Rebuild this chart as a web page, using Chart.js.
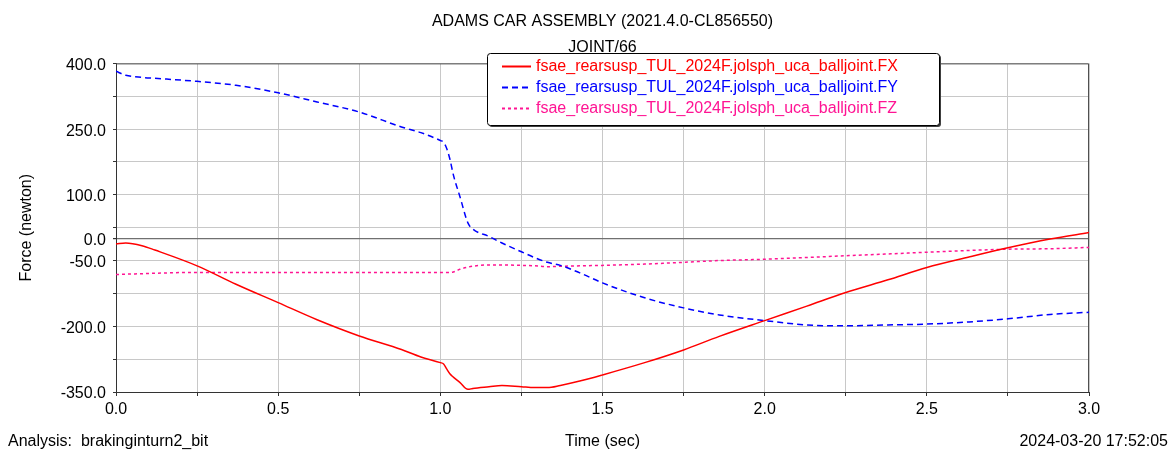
<!DOCTYPE html>
<html><head><meta charset="utf-8">
<script src="https://cdn.jsdelivr.net/npm/chart.js@4.4.0/dist/chart.umd.min.js"></script>
<style>html,body{margin:0;padding:0;background:#fff;}canvas{display:block}</style>
</head><body>
<canvas id="c" width="1172" height="450"></canvas>
<script>
// ---- data ----
const times = [0, 0.03, 0.08, 0.12, 0.25, 0.37, 0.5, 0.62, 0.75, 0.88, 0.94, 1.0, 1.01, 1.02, 1.03, 1.04, 1.06, 1.085, 1.1, 1.15, 1.19, 1.25, 1.29, 1.33, 1.37, 1.43, 1.5, 1.63, 1.75, 1.86, 2.0, 2.13, 2.25, 2.38, 2.5, 2.63, 2.75, 2.88, 3.0];
const fx = [-12, -10, -16, -26, -62, -104, -146, -185, -222, -253, -270, -283, -286, -298, -309, -316, -328, -344, -342, -338, -335, -338, -340, -340, -335, -325, -311, -283, -254, -223, -187, -154, -123, -94, -66, -42, -21, -1, 14];
const fy = [382, 373, 368, 366, 359, 350, 333, 312, 289, 255, 242, 224, 220, 205, 180, 146, 97, 36, 22, 5, -10, -30, -43, -54, -61, -78, -101, -135, -158, -174, -187, -197, -199, -197, -195, -190, -183, -173, -168];
const fz = [-82, -81, -80, -79, -77, -77, -77, -77, -77, -77, -77, -77, -77, -77, -77, -76, -70, -65, -63, -60, -60, -61, -62, -64, -63, -62, -61, -58, -54, -50, -47, -43, -39, -35, -31, -27, -24, -23, -20];
const seriesLabels = ['fsae_rearsusp_TUL_2024F.jolsph_uca_balljoint.FX', 'fsae_rearsusp_TUL_2024F.jolsph_uca_balljoint.FY', 'fsae_rearsusp_TUL_2024F.jolsph_uca_balljoint.FZ'];
const yTickValues = [-350, -275, -200, -125, -50, 0, 25, 100, 175, 250, 325, 400];
const yTickLabelled = [-350, -200, -50, 0, 100, 250, 400];
const xTickValues = [0, 0.25, 0.5, 0.75, 1.0, 1.25, 1.5, 1.75, 2.0, 2.25, 2.5, 2.75, 3.0];
const xTickLabelled = [0, 0.5, 1.0, 1.5, 2.0, 2.5, 3.0];
const titleText = 'ADAMS CAR ASSEMBLY (2021.4.0-CL856550)';
const subtitleText = 'JOINT/66';
const yAxisTitle = 'Force (newton)';
const xAxisTitle = 'Time (sec)';
const footerLeft = 'Analysis:  brakinginturn2_bit';
const footerRight = '2024-03-20 17:52:05';

// ---- styles ----
const FONT = '"Liberation Sans", Arial, sans-serif';
const colors = ['#ff0000', '#0000ff', '#ff1493'];
const dashes = [[], [6, 4], [3, 3]];
const GRID = '#c8c8c8';
const AXIS = '#333333';

const toPts = (vals) => times.map((t, i) => ({x: t, y: vals[i]}));

const frameAndText = {
  id: 'frameAndText',
  beforeDatasetsDraw(chart) {
    const {ctx, chartArea: a} = chart;
    ctx.save();
    ctx.strokeStyle = '#505050';
    ctx.lineWidth = 1;
    ctx.beginPath();
    ctx.moveTo(a.left, a.top + 0.5);
    ctx.lineTo(a.right - 0.5, a.top + 0.5);
    ctx.lineTo(a.right - 0.5, a.bottom);
    ctx.stroke();
    ctx.restore();
  },
  afterDraw(chart) {
    const {ctx} = chart;
    ctx.save();
    ctx.font = '16px ' + FONT;
    ctx.fillStyle = '#000';
    ctx.textBaseline = 'middle';
    ctx.textAlign = 'left';
    ctx.fillText(footerLeft, 8, 442);
    ctx.textAlign = 'right';
    ctx.fillText(footerRight, 1168, 442);
    // legend box
    const bx = 487.5, by = 53.5, bw = 452, bh = 72;
    ctx.fillStyle = '#404040';
    ctx.beginPath();
    ctx.roundRect(bx + 1.5, by + 1.5, bw, bh, 3);
    ctx.fill();
    ctx.fillStyle = '#fff';
    ctx.strokeStyle = '#000';
    ctx.lineWidth = 1;
    ctx.beginPath();
    ctx.roundRect(bx, by, bw, bh, 3);
    ctx.fill();
    ctx.stroke();
    chart.data.datasets.forEach((ds, i) => {
      const cy = by + 13 + i * 21;
      ctx.strokeStyle = ds.borderColor;
      ctx.lineWidth = 2;
      ctx.setLineDash(ds.borderDash || []);
      ctx.beginPath();
      ctx.moveTo(502, cy);
      ctx.lineTo(531, cy);
      ctx.stroke();
      ctx.setLineDash([]);
      ctx.fillStyle = ds.borderColor;
      ctx.textAlign = 'left';
      ctx.textBaseline = 'middle';
      ctx.fillText(ds.label, 536, cy);
    });
    ctx.restore();
  }
};

new Chart(document.getElementById('c'), {
  type: 'line',
  data: {
    datasets: [fx, fy, fz].map((vals, i) => ({
      label: seriesLabels[i],
      data: toPts(vals),
      borderColor: colors[i],
      backgroundColor: colors[i],
      borderWidth: 1.5,
      borderDash: dashes[i],
      pointRadius: 0,
      fill: false,
      cubicInterpolationMode: 'monotone'
    }))
  },
  options: {
    responsive: false,
    animation: false,
    layout: {padding: {left: 0, right: 83, top: 0, bottom: 0}},
    plugins: {
      legend: {display: false},
      tooltip: {enabled: false},
      title: {display: true, text: titleText, fullSize: false, color: '#000',
        font: {family: FONT, size: 16, weight: 'normal', lineHeight: 1.2}, padding: {top: 12, bottom: 7}},
      subtitle: {display: true, text: subtitleText, fullSize: false, color: '#000',
        font: {family: FONT, size: 16, weight: 'normal', lineHeight: 1.2}, padding: {top: 0, bottom: 6}}
    },
    scales: {
      x: {
        type: 'linear', min: 0, max: 3,
        afterBuildTicks: (s) => { s.ticks = xTickValues.map(v => ({value: v})); },
        afterFit: (s) => { s.height = 58; },
        ticks: {autoSkip: false, maxRotation: 0, padding: 4, color: '#000',
          font: {family: FONT, size: 16},
          callback: (v) => xTickLabelled.includes(v) ? v.toFixed(1) : ''},
        grid: {color: GRID, tickColor: AXIS, tickLength: 4, drawTicks: true},
        border: {color: AXIS, width: 1},
        title: {display: true, text: xAxisTitle, color: '#000', font: {family: FONT, size: 16, lineHeight: 1.0}, padding: {top: 0, bottom: 0}}
      },
      y: {
        type: 'linear', min: -350, max: 400,
        afterBuildTicks: (s) => { s.ticks = yTickValues.map(v => ({value: v})); },
        afterFit: (s) => { s.width = 116; },
        ticks: {autoSkip: false, padding: 7, labelOffset: 2, color: '#000',
          font: {family: FONT, size: 16},
          callback: (v) => yTickLabelled.includes(v) ? v.toFixed(1) : ''},
        grid: {color: (c) => c.tick && c.tick.value === 0 ? '#707070' : GRID,
          lineWidth: (c) => c.tick && c.tick.value === 0 ? 1.2 : 1,
          tickColor: AXIS, tickLength: 3, drawTicks: true},
        border: {color: AXIS, width: 1},
        title: {display: true, text: yAxisTitle, color: '#000', font: {family: FONT, size: 16}, padding: {top: 17, bottom: 0}}
      }
    }
  },
  plugins: [frameAndText]
});
</script>
</body></html>
